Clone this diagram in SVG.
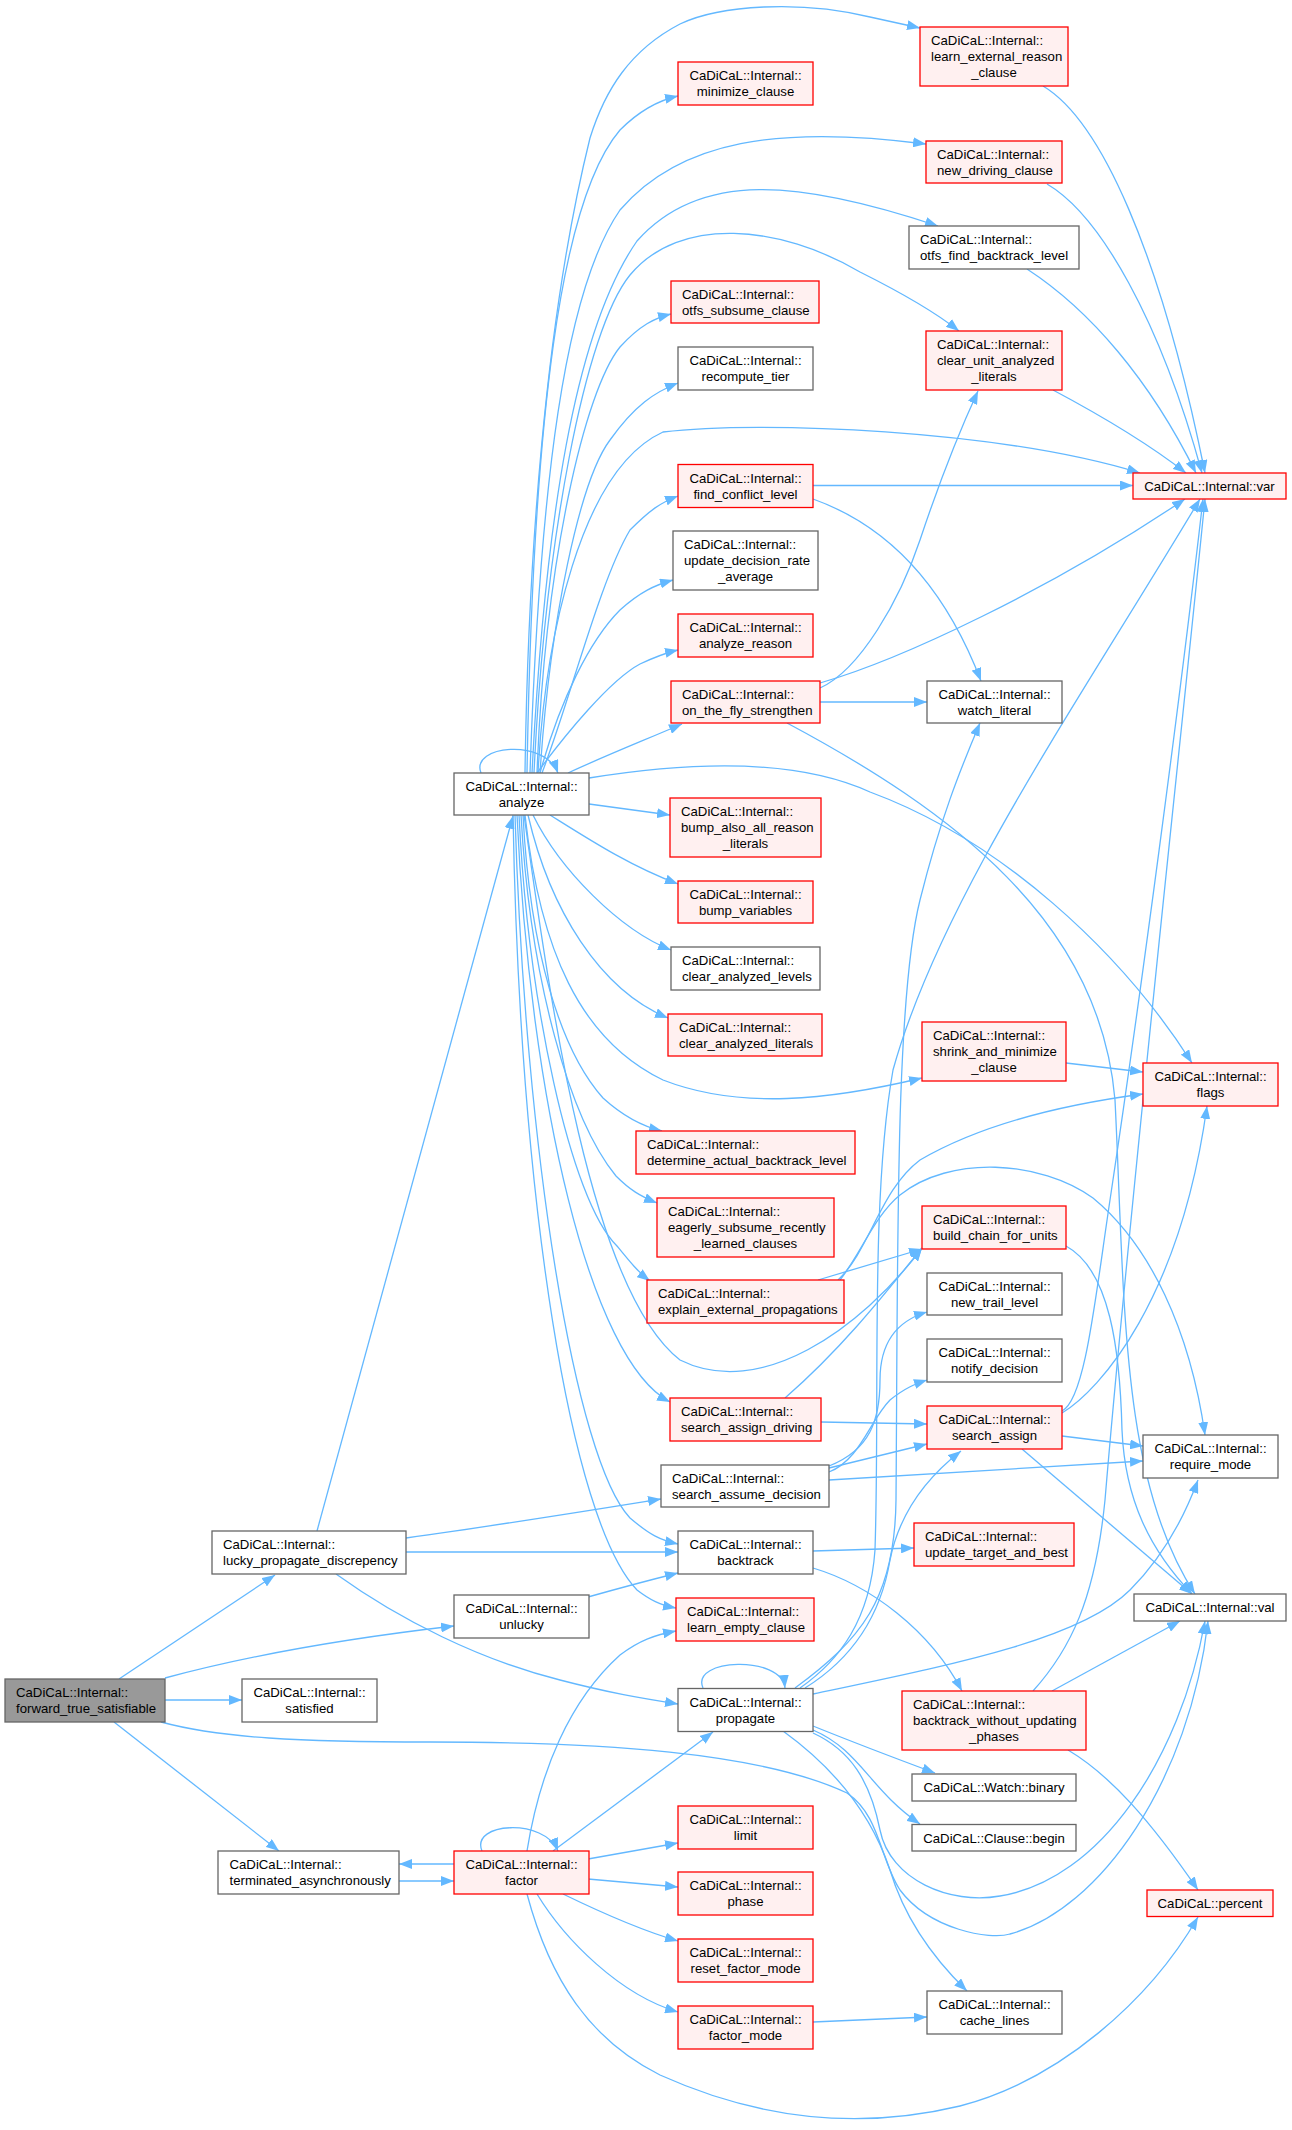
<svg xmlns="http://www.w3.org/2000/svg" width="1292" height="2130" viewBox="0 0 1292 2130">
<defs>
<marker id="ah" viewBox="0 0 13 10" refX="13" refY="5" markerWidth="13" markerHeight="10" orient="auto" markerUnits="userSpaceOnUse"><path d="M0,0 L13,5 L0,10 z" fill="#63b8ff"/></marker>
<style>
.e{fill:none;stroke:#63b8ff;stroke-width:1.3;marker-end:url(#ah)}
.r{fill:#fff0f0;stroke:#ff0000;stroke-width:1.3}
.g{fill:#ffffff;stroke:#666666;stroke-width:1.3}
.root{fill:#999999;stroke:#666666;stroke-width:1.3}
text{font-family:"Liberation Sans",Arial,Helvetica,sans-serif;font-size:13.2px;fill:#000}
.c{text-anchor:middle}
</style>
</defs>
<rect width="1292" height="2130" fill="#ffffff"/>
<g id="edges">
<path class="e" d="M525,773 C528,560 545,320 590,138 C605,90 630,50 680,24 C720,5 800,0 870,17 L920,28"/>
<path class="e" d="M527,773 C533,420 560,200 620,130 C640,110 660,100 678,96"/>
<path class="e" d="M530,773 C540,480 565,290 620,210 C680,140 780,125 926,144"/>
<path class="e" d="M532,773 C545,520 575,330 637,241 C700,170 800,180 938,226"/>
<path class="e" d="M534,773 C545,540 585,330 630,275 C680,215 780,225 860,272 C900,292 935,312 959,331"/>
<path class="e" d="M537,773 C545,560 585,390 620,347 C640,325 655,318 671,314"/>
<path class="e" d="M540,773 C550,620 580,480 610,440 C635,405 655,392 678,383"/>
<path class="e" d="M538,773 C545,640 580,470 663,432 C760,420 1000,430 1140,473"/>
<path class="e" d="M542,773 C570,700 600,580 630,530 C650,510 660,503 678,496"/>
<path class="e" d="M540,773 C560,700 590,640 620,610 C640,592 655,585 673,580"/>
<path class="e" d="M537,773 C565,735 610,680 640,664 C655,657 665,653 678,650"/>
<path class="e" d="M568,773 C600,758 640,742 682,724"/>
<path class="e" d="M481,773 C470,745 545,738 558,773"/>
<path class="e" d="M589,778 C700,760 800,760 870,792 C1000,840 1120,950 1192,1063"/>
<path class="e" d="M589,804 L670,815"/>
<path class="e" d="M550,815 C590,840 630,866 678,884"/>
<path class="e" d="M533,815 C560,870 620,930 671,950"/>
<path class="e" d="M528,815 C550,910 600,990 668,1018"/>
<path class="e" d="M525,815 C540,950 580,1040 663,1080 C740,1110 830,1100 922,1078"/>
<path class="e" d="M523,815 C530,950 560,1050 603,1098 C625,1118 645,1127 662,1131"/>
<path class="e" d="M521,815 C530,980 570,1120 616,1176 C630,1190 640,1196 657,1203"/>
<path class="e" d="M519,815 C528,1000 570,1200 617,1246 C630,1262 638,1272 650,1281"/>
<path class="e" d="M524,815 C550,1000 590,1290 680,1360 C760,1400 860,1330 922,1248"/>
<path class="e" d="M517,815 C530,1100 590,1360 670,1402"/>
<path class="e" d="M515,815 C525,1150 575,1460 630,1518 C650,1535 660,1540 678,1544"/>
<path class="e" d="M513,815 C520,1200 570,1520 637,1590 C650,1600 660,1605 676,1608"/>
<path class="e" d="M317,1531 L513,816"/>
<path class="e" d="M1043,86 C1100,120 1160,250 1205,473"/>
<path class="e" d="M1047,184 C1100,215 1160,320 1202,473"/>
<path class="e" d="M1027,269 C1090,310 1150,380 1196,473"/>
<path class="e" d="M1053,390 C1100,415 1150,445 1186,473"/>
<path class="e" d="M813,485.5 L1133,485.5"/>
<path class="e" d="M813,499 C900,530 950,600 981,681"/>
<path class="e" d="M820,702 L927,702"/>
<path class="e" d="M820,688 C860,670 900,600 920,540 C940,480 960,430 978,391"/>
<path class="e" d="M820,683 C900,660 1050,590 1185,499"/>
<path class="e" d="M787,723 C950,810 1100,920 1115,1100 C1125,1300 1120,1480 1195,1594"/>
<path class="e" d="M1066,1063 L1143,1072"/>
<path class="e" d="M838,1280 C870,1250 880,1190 920,1160 C980,1125 1060,1105 1143,1094"/>
<path class="e" d="M818,1280 L922,1249"/>
<path class="e" d="M840,1280 C860,1255 875,1215 900,1195 C950,1155 1040,1160 1093,1198 C1150,1245 1190,1330 1205,1435"/>
<path class="e" d="M785,1398 C840,1350 880,1300 922,1248"/>
<path class="e" d="M821,1422 L927,1424"/>
<path class="e" d="M829,1468 L927,1444"/>
<path class="e" d="M829,1480 L1143,1461"/>
<path class="e" d="M829,1466 C870,1450 880,1420 880,1380 C880,1340 900,1320 927,1312"/>
<path class="e" d="M829,1472 C860,1460 870,1420 890,1400 C905,1388 915,1384 927,1380"/>
<path class="e" d="M1062,1436 L1143,1446"/>
<path class="e" d="M1022,1449 L1192,1594"/>
<path class="e" d="M1062,1411 C1085,1400 1095,1300 1110,1200 C1140,1000 1180,700 1203,499"/>
<path class="e" d="M1062,1413 C1100,1390 1180,1300 1207,1106"/>
<path class="e" d="M1033,1691 C1070,1650 1095,1600 1105,1500 C1130,1200 1180,750 1205,499"/>
<path class="e" d="M1052,1691 L1180,1621"/>
<path class="e" d="M1068,1750 C1110,1775 1150,1820 1198,1890"/>
<path class="e" d="M813,1568 C870,1585 930,1630 962,1691"/>
<path class="e" d="M813,1551 L914,1548"/>
<path class="e" d="M1066,1246 C1110,1270 1120,1350 1122,1430 C1125,1500 1150,1550 1192,1594"/>
<path class="e" d="M795,1688 C860,1640 895,1600 896,1500 C898,1250 895,1000 920,900 C940,820 960,770 980,723"/>
<path class="e" d="M800,1688 C840,1660 870,1620 875,1550 C880,1400 870,1200 893,1070 C940,900 1080,700 1200,499"/>
<path class="e" d="M805,1688 C850,1660 880,1620 890,1560 C900,1510 930,1475 961,1451"/>
<path class="e" d="M813,1694 C950,1665 1080,1640 1130,1590 C1165,1555 1185,1515 1198,1480"/>
<path class="e" d="M703,1688 C690,1658 782,1655 785,1688"/>
<path class="e" d="M813,1726 C860,1745 900,1760 935,1773"/>
<path class="e" d="M813,1730 C860,1750 870,1790 920,1824"/>
<path class="e" d="M783,1731 C830,1765 870,1810 890,1870 C905,1920 935,1960 967,1991"/>
<path class="e" d="M813,1733 C850,1750 870,1780 880,1830 C890,1880 950,1905 1000,1896 C1100,1880 1180,1760 1205,1621"/>
<path class="e" d="M161,1722 C220,1738 300,1742 430,1742 C600,1742 760,1752 847,1793 C880,1815 880,1860 900,1890 C930,1930 990,1940 1010,1934 C1100,1910 1190,1780 1208,1621"/>
<path class="e" d="M527,1894 C550,1980 590,2040 660,2075 C760,2120 860,2130 960,2106 C1060,2080 1150,2000 1198,1917"/>
<path class="e" d="M813,2022 L927,2017"/>
<path class="e" d="M588,1859 L678,1843"/>
<path class="e" d="M588,1879 L678,1887"/>
<path class="e" d="M563,1894 C600,1912 640,1930 678,1941"/>
<path class="e" d="M537,1894 C565,1940 620,1995 678,2012"/>
<path class="e" d="M527,1851 C540,1770 570,1700 620,1655 C640,1640 655,1635 676,1631"/>
<path class="e" d="M553,1851 L713,1732"/>
<path class="e" d="M482,1851 C470,1822 545,1818 558,1851"/>
<path class="e" d="M454,1864 L399,1864"/>
<path class="e" d="M399,1881 L454,1881"/>
<path class="e" d="M114,1722 L279,1851"/>
<path class="e" d="M165,1700 L242,1700"/>
<path class="e" d="M165,1678 C250,1655 350,1638 454,1626"/>
<path class="e" d="M119,1679 L275,1575"/>
<path class="e" d="M406,1538 C500,1525 580,1512 661,1499"/>
<path class="e" d="M406,1552 L678,1552"/>
<path class="e" d="M336,1574 C400,1620 480,1660 560,1680 C610,1693 640,1698 678,1704"/>
<path class="e" d="M588,1597 C620,1588 650,1580 678,1573"/>
</g>
<g id="n_forward_true_satisfiable"><rect class="root" x="5" y="1679" width="160" height="43"/><text x="16" y="1697">CaDiCaL::Internal::</text><text x="16" y="1713">forward_true_satisfiable</text></g>
<g id="n_lucky_propagate_discrepency"><rect class="g" x="212" y="1531" width="194" height="43"/><text x="223" y="1549">CaDiCaL::Internal::</text><text x="223" y="1565">lucky_propagate_discrepency</text></g>
<g id="n_satisfied"><rect class="g" x="242" y="1679" width="135" height="43"/><text class="c" x="309.5" y="1697">CaDiCaL::Internal::</text><text class="c" x="309.5" y="1713">satisfied</text></g>
<g id="n_unlucky"><rect class="g" x="454" y="1595" width="135" height="43"/><text class="c" x="521.5" y="1613">CaDiCaL::Internal::</text><text class="c" x="521.5" y="1629">unlucky</text></g>
<g id="n_terminated_asynchronously"><rect class="g" x="218" y="1851" width="181" height="43"/><text x="229.5" y="1869">CaDiCaL::Internal::</text><text x="229.5" y="1885">terminated_asynchronously</text></g>
<g id="n_analyze"><rect class="g" x="454" y="773" width="135" height="42"/><text class="c" x="521.5" y="791">CaDiCaL::Internal::</text><text class="c" x="521.5" y="807">analyze</text></g>
<g id="n_factor"><rect class="r" x="454" y="1851" width="135" height="43"/><text class="c" x="521.5" y="1869">CaDiCaL::Internal::</text><text class="c" x="521.5" y="1885">factor</text></g>
<g id="n_learn_external_reason_clause"><rect class="r" x="920" y="27" width="148" height="59"/><text x="931" y="45">CaDiCaL::Internal::</text><text x="931" y="61">learn_external_reason</text><text class="c" x="994" y="77">_clause</text></g>
<g id="n_minimize_clause"><rect class="r" x="678" y="62" width="135" height="43"/><text class="c" x="745.5" y="80">CaDiCaL::Internal::</text><text class="c" x="745.5" y="96">minimize_clause</text></g>
<g id="n_new_driving_clause"><rect class="r" x="926" y="141" width="136" height="42"/><text x="937" y="159">CaDiCaL::Internal::</text><text x="937" y="175">new_driving_clause</text></g>
<g id="n_otfs_find_backtrack_level"><rect class="g" x="909" y="226" width="170" height="43"/><text x="920" y="244">CaDiCaL::Internal::</text><text x="920" y="260">otfs_find_backtrack_level</text></g>
<g id="n_otfs_subsume_clause"><rect class="r" x="671" y="281" width="148" height="42"/><text x="682" y="299">CaDiCaL::Internal::</text><text x="682" y="315">otfs_subsume_clause</text></g>
<g id="n_clear_unit_analyzed_literals"><rect class="r" x="926" y="331" width="136" height="59"/><text x="937" y="349">CaDiCaL::Internal::</text><text x="937" y="365">clear_unit_analyzed</text><text class="c" x="994" y="381">_literals</text></g>
<g id="n_recompute_tier"><rect class="g" x="678" y="347" width="135" height="43"/><text class="c" x="745.5" y="365">CaDiCaL::Internal::</text><text class="c" x="745.5" y="381">recompute_tier</text></g>
<g id="n_var"><rect class="r" x="1133" y="473" width="153" height="26"/><text class="c" x="1209.5" y="491">CaDiCaL::Internal::var</text></g>
<g id="n_find_conflict_level"><rect class="r" x="678" y="464.5" width="135" height="43"/><text class="c" x="745.5" y="482.5">CaDiCaL::Internal::</text><text class="c" x="745.5" y="498.5">find_conflict_level</text></g>
<g id="n_update_decision_rate_average"><rect class="g" x="673" y="531" width="145" height="59"/><text x="684" y="549">CaDiCaL::Internal::</text><text x="684" y="565">update_decision_rate</text><text class="c" x="745.5" y="581">_average</text></g>
<g id="n_analyze_reason"><rect class="r" x="678" y="614" width="135" height="43"/><text class="c" x="745.5" y="632">CaDiCaL::Internal::</text><text class="c" x="745.5" y="648">analyze_reason</text></g>
<g id="n_on_the_fly_strengthen"><rect class="r" x="671" y="681" width="149" height="42"/><text x="682" y="699">CaDiCaL::Internal::</text><text x="682" y="715">on_the_fly_strengthen</text></g>
<g id="n_watch_literal"><rect class="g" x="927" y="681" width="135" height="42"/><text class="c" x="994.5" y="699">CaDiCaL::Internal::</text><text class="c" x="994.5" y="715">watch_literal</text></g>
<g id="n_bump_also_all_reason_literals"><rect class="r" x="670" y="798" width="151" height="59"/><text x="681" y="816">CaDiCaL::Internal::</text><text x="681" y="832">bump_also_all_reason</text><text class="c" x="745.5" y="848">_literals</text></g>
<g id="n_bump_variables"><rect class="r" x="678" y="881" width="135" height="42"/><text class="c" x="745.5" y="899">CaDiCaL::Internal::</text><text class="c" x="745.5" y="915">bump_variables</text></g>
<g id="n_clear_analyzed_levels"><rect class="g" x="671" y="947" width="149" height="43"/><text x="682" y="965">CaDiCaL::Internal::</text><text x="682" y="981">clear_analyzed_levels</text></g>
<g id="n_clear_analyzed_literals"><rect class="r" x="668" y="1014" width="154" height="42"/><text x="679" y="1032">CaDiCaL::Internal::</text><text x="679" y="1048">clear_analyzed_literals</text></g>
<g id="n_shrink_and_minimize_clause"><rect class="r" x="922" y="1022" width="144" height="59"/><text x="933" y="1040">CaDiCaL::Internal::</text><text x="933" y="1056">shrink_and_minimize</text><text class="c" x="994" y="1072">_clause</text></g>
<g id="n_flags"><rect class="r" x="1143" y="1063" width="135" height="43"/><text class="c" x="1210.5" y="1081">CaDiCaL::Internal::</text><text class="c" x="1210.5" y="1097">flags</text></g>
<g id="n_determine_actual_backtrack_level"><rect class="r" x="636" y="1131" width="219" height="43"/><text x="647" y="1149">CaDiCaL::Internal::</text><text x="647" y="1165">determine_actual_backtrack_level</text></g>
<g id="n_eagerly_subsume_recently_learned_clauses"><rect class="r" x="657" y="1198" width="177" height="59"/><text x="668" y="1216">CaDiCaL::Internal::</text><text x="668" y="1232">eagerly_subsume_recently</text><text class="c" x="745.5" y="1248">_learned_clauses</text></g>
<g id="n_explain_external_propagations"><rect class="r" x="647" y="1280" width="197" height="43"/><text x="658" y="1298">CaDiCaL::Internal::</text><text x="658" y="1314">explain_external_propagations</text></g>
<g id="n_build_chain_for_units"><rect class="r" x="922" y="1206" width="144" height="43"/><text x="933" y="1224">CaDiCaL::Internal::</text><text x="933" y="1240">build_chain_for_units</text></g>
<g id="n_new_trail_level"><rect class="g" x="927" y="1273" width="135" height="42"/><text class="c" x="994.5" y="1291">CaDiCaL::Internal::</text><text class="c" x="994.5" y="1307">new_trail_level</text></g>
<g id="n_notify_decision"><rect class="g" x="927" y="1339" width="135" height="43"/><text class="c" x="994.5" y="1357">CaDiCaL::Internal::</text><text class="c" x="994.5" y="1373">notify_decision</text></g>
<g id="n_search_assign_driving"><rect class="r" x="670" y="1398" width="151" height="43"/><text x="681" y="1416">CaDiCaL::Internal::</text><text x="681" y="1432">search_assign_driving</text></g>
<g id="n_search_assign"><rect class="r" x="927" y="1406" width="135" height="43"/><text class="c" x="994.5" y="1424">CaDiCaL::Internal::</text><text class="c" x="994.5" y="1440">search_assign</text></g>
<g id="n_search_assume_decision"><rect class="g" x="661" y="1465" width="168" height="42"/><text x="672" y="1483">CaDiCaL::Internal::</text><text x="672" y="1499">search_assume_decision</text></g>
<g id="n_require_mode"><rect class="g" x="1143" y="1435" width="135" height="43"/><text class="c" x="1210.5" y="1453">CaDiCaL::Internal::</text><text class="c" x="1210.5" y="1469">require_mode</text></g>
<g id="n_backtrack"><rect class="g" x="678" y="1531" width="135" height="43"/><text class="c" x="745.5" y="1549">CaDiCaL::Internal::</text><text class="c" x="745.5" y="1565">backtrack</text></g>
<g id="n_update_target_and_best"><rect class="r" x="914" y="1523" width="160" height="43"/><text x="925" y="1541">CaDiCaL::Internal::</text><text x="925" y="1557">update_target_and_best</text></g>
<g id="n_val"><rect class="g" x="1134" y="1594" width="152" height="27"/><text class="c" x="1210" y="1612">CaDiCaL::Internal::val</text></g>
<g id="n_learn_empty_clause"><rect class="r" x="676" y="1598" width="138" height="43"/><text x="687" y="1616">CaDiCaL::Internal::</text><text x="687" y="1632">learn_empty_clause</text></g>
<g id="n_propagate"><rect class="g" x="678" y="1688.5" width="135" height="43"/><text class="c" x="745.5" y="1706.5">CaDiCaL::Internal::</text><text class="c" x="745.5" y="1722.5">propagate</text></g>
<g id="n_backtrack_without_updating_phases"><rect class="r" x="902" y="1691" width="184" height="59"/><text x="913" y="1709">CaDiCaL::Internal::</text><text x="913" y="1725">backtrack_without_updating</text><text class="c" x="994" y="1741">_phases</text></g>
<g id="n_watch_binary"><rect class="g" x="912" y="1774" width="164" height="27"/><text class="c" x="994" y="1792">CaDiCaL::Watch::binary</text></g>
<g id="n_clause_begin"><rect class="g" x="912" y="1824.5" width="164" height="26.5"/><text class="c" x="994" y="1842.5">CaDiCaL::Clause::begin</text></g>
<g id="n_limit"><rect class="r" x="678" y="1806" width="135" height="43"/><text class="c" x="745.5" y="1824">CaDiCaL::Internal::</text><text class="c" x="745.5" y="1840">limit</text></g>
<g id="n_phase"><rect class="r" x="678" y="1872" width="135" height="43"/><text class="c" x="745.5" y="1890">CaDiCaL::Internal::</text><text class="c" x="745.5" y="1906">phase</text></g>
<g id="n_percent"><rect class="r" x="1147" y="1890" width="126" height="26.5"/><text class="c" x="1210" y="1908">CaDiCaL::percent</text></g>
<g id="n_reset_factor_mode"><rect class="r" x="678" y="1939" width="135" height="43"/><text class="c" x="745.5" y="1957">CaDiCaL::Internal::</text><text class="c" x="745.5" y="1973">reset_factor_mode</text></g>
<g id="n_factor_mode"><rect class="r" x="678" y="2006" width="135" height="43"/><text class="c" x="745.5" y="2024">CaDiCaL::Internal::</text><text class="c" x="745.5" y="2040">factor_mode</text></g>
<g id="n_cache_lines"><rect class="g" x="927" y="1991" width="135" height="43"/><text class="c" x="994.5" y="2009">CaDiCaL::Internal::</text><text class="c" x="994.5" y="2025">cache_lines</text></g>
</svg>
